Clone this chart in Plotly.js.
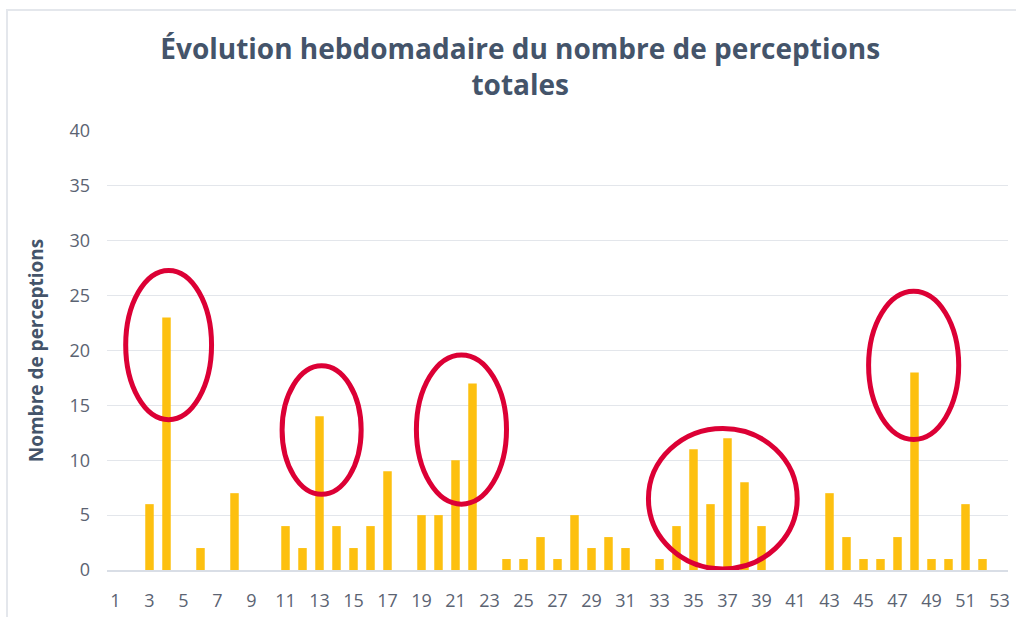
<!DOCTYPE html>
<html>
<head>
<meta charset="utf-8">
<script src="https://cdn.plot.ly/plotly-3.0.1.min.js"></script>
<style>
  html, body { margin: 0; padding: 0; background: #ffffff; }
  #wrap { position: relative; width: 1016px; height: 617px; overflow: hidden; }
  #chart { position: absolute; left: 0; top: 0; width: 1016px; height: 617px; }
  #frame { position: absolute; left: 6px; top: 9px; width: 1100px; height: 700px;
           border-left: 2px solid #e4e7ec; border-top: 2px solid #e4e7ec; pointer-events: none; }
</style>
</head>
<body>
<div id="wrap">
  <div id="chart"></div>
  <div id="frame"></div>
</div>
<script>
// Weeks of the year
const weeks = [];
for (let w = 1; w <= 53; w++) weeks.push(w);

// Weekly number of perceptions
const perceptions = [
  0, 0, 6, 23, 0, 2, 0, 7, 0, 0,
  4, 2, 14, 4, 2, 4, 9, 0, 5, 5,
  10, 17, 0, 1, 1, 3, 1, 5, 2, 3,
  2, 0, 1, 4, 11, 6, 12, 8, 4, 0,
  0, 0, 7, 3, 1, 1, 3, 18, 1, 1,
  6, 1, 0
];

// X tick labels (odd weeks)
const xTickVals = weeks.filter(w => w % 2 === 1);
const xTickText = xTickVals.map(String);

// Y ticks
const yTickVals = [0, 5, 10, 15, 20, 25, 30, 35, 40];

// Highlighted regions (red ellipses): [weekStart, weekEnd, valueLow, valueHigh]
const highlightWeekStart = [1.6, 10.8, 18.7, 32.35, 45.3];
const highlightWeekEnd   = [6.65, 15.45, 24.0, 41.1, 50.6];
const highlightValLow    = [13.7, 6.9, 6.0, 0.1, 11.9];
const highlightValHigh   = [27.3, 18.6, 19.6, 12.9, 25.4];

const titleText = 'Évolution hebdomadaire du nombre de perceptions<br>totales';
const yTitleText = 'Nombre de perceptions';

const shapes = highlightWeekStart.map((x0, i) => ({
  type: 'circle', xref: 'x', yref: 'y',
  x0: x0, x1: highlightWeekEnd[i],
  y0: highlightValLow[i], y1: highlightValHigh[i],
  line: { color: '#DC0035', width: 5 },
  fillcolor: 'rgba(0,0,0,0)',
  layer: 'above'
}));

const trace = {
  type: 'bar',
  x: weeks,
  y: perceptions,
  width: 0.5,
  marker: { color: '#FDC010', line: { width: 0 } },
  hoverinfo: 'x+y'
};

const layout = {
  width: 1016, height: 617,
  paper_bgcolor: '#ffffff', plot_bgcolor: '#ffffff',
  margin: { l: 107, r: 8, t: 131, b: 47, pad: 0 },
  showlegend: false,
  font: { family: 'Open Sans, sans-serif', color: '#5b6372' },
  title: {
    text: titleText,
    font: { family: 'Open Sans, sans-serif', size: 28, color: '#44546A', weight: 'bold', lineposition: 'none' },
    x: 0.512, xanchor: 'center',
    y: 0.905, yanchor: 'middle'
  },
  xaxis: {
    range: [0.5, 53.5],
    tickmode: 'array', tickvals: xTickVals, ticktext: xTickText,
    showgrid: false, zeroline: false,
    showline: true, linecolor: '#d9dee6', linewidth: 1.5,
    ticks: '', ticklabelstandoff: 14,
    tickfont: { size: 18, color: '#5b6372' },
    fixedrange: true
  },
  yaxis: {
    range: [0, 40],
    tickmode: 'array', tickvals: yTickVals,
    showgrid: true, gridcolor: '#e3e6eb', gridwidth: 1.2,
    zeroline: false, showline: false,
    ticks: '', ticklabelstandoff: 16,
    tickfont: { size: 18, color: '#5b6372' },
    title: {
      text: yTitleText,
      font: { family: 'Open Sans, sans-serif', size: 19, color: '#44546A', weight: 'bold' },
      standoff: 20
    },
    fixedrange: true
  },
  bargap: 0.5,
  shapes: shapes
};

Plotly.newPlot('chart', [trace], layout, { displayModeBar: false, staticPlot: true });
</script>
</body>
</html>
